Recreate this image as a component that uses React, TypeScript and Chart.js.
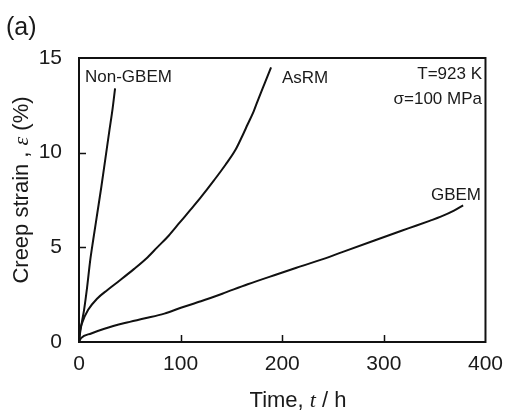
import React, { useEffect, useRef } from "react";
import { Chart, registerables } from "chart.js";

Chart.register(...registerables);

// Data
const nonGbemTime = [0, 1, 3, 5, 8, 11, 14, 18, 22, 26, 30, 33, 35.5];
const nonGbemStrain = [0, 0.45, 1.1, 1.7, 2.9, 4.3, 5.4, 6.8, 8.2, 9.7, 11.2, 12.3, 13.4];

const asrmTime = [0, 1, 3, 9, 18, 28, 40, 54, 66, 77, 88, 99, 110, 120, 133, 144, 154, 160, 166, 172, 177, 183, 189];
const asrmStrain = [0, 0.6, 1.0, 1.7, 2.3, 2.75, 3.25, 3.85, 4.4, 5.0, 5.6, 6.3, 7.0, 7.65, 8.55, 9.35, 10.15, 10.8, 11.5, 12.2, 12.9, 13.7, 14.5];

const gbemTime = [0, 2, 12, 25, 45, 65, 84, 101, 120, 141, 166, 195, 214, 240, 259, 290, 324, 345, 356, 369, 378];
const gbemStrain = [0, 0.2, 0.45, 0.7, 1.0, 1.25, 1.5, 1.82, 2.15, 2.55, 3.05, 3.58, 3.92, 4.38, 4.75, 5.35, 6.0, 6.4, 6.62, 6.94, 7.22];

const xTicks = [0, 100, 200, 300, 400];
const yTicks = [0, 5, 10, 15];

const FONT = "'Liberation Sans', Arial, sans-serif";
const TEXT = "#1a1a1a";

const toXY = (xs: number[], ys: number[]) => xs.map((x, i) => ({ x, y: ys[i] }));

type Seg = { t: string; italic?: boolean };

function drawSegs(ctx: CanvasRenderingContext2D, segs: Seg[], size: number, cx: number, cy: number) {
  const fontFor = (s: Seg) => (s.italic ? `italic ${size}px 'Liberation Serif', serif` : `${size}px ${FONT}`);
  let total = 0;
  for (const s of segs) {
    ctx.font = fontFor(s);
    total += ctx.measureText(s.t).width;
  }
  let x = cx - total / 2;
  ctx.textBaseline = "middle";
  ctx.textAlign = "left";
  for (const s of segs) {
    ctx.font = fontFor(s);
    ctx.fillText(s.t, x, cy);
    x += ctx.measureText(s.t).width;
  }
}

const framePlugin = {
  id: "frame",
  afterDraw(chart: any) {
    const { ctx, chartArea: a, scales } = chart;
    const xs = scales.x;
    const ys = scales.y;
    ctx.save();
    ctx.strokeStyle = "#111";
    ctx.lineWidth = 2;
    ctx.strokeRect(a.left, a.top, a.right - a.left, a.bottom - a.top);
    // inward ticks
    ctx.lineWidth = 1.5;
    ctx.beginPath();
    for (const v of xTicks.slice(1, -1)) {
      const px = Math.round(xs.getPixelForValue(v)) + 0.5;
      ctx.moveTo(px, a.bottom);
      ctx.lineTo(px, a.bottom - 7);
    }
    for (const v of yTicks.slice(1, -1)) {
      const py = Math.round(ys.getPixelForValue(v)) + 0.5;
      ctx.moveTo(a.left, py);
      ctx.lineTo(a.left + 7, py);
    }
    ctx.stroke();

    ctx.fillStyle = TEXT;
    // x title
    drawSegs(ctx, [{ t: "Time, " }, { t: "t", italic: true }, { t: " / h" }], 22, 298, 401);
    // y title
    ctx.save();
    ctx.translate(22, 190);
    ctx.rotate(-Math.PI / 2);
    drawSegs(ctx, [{ t: "Creep strain , " }, { t: "ε", italic: true }, { t: " (%)" }], 22, 0, 0);
    ctx.restore();

    // panel label
    ctx.font = `25px ${FONT}`;
    ctx.textAlign = "left";
    ctx.textBaseline = "middle";
    ctx.fillText("(a)", 6, 28);

    // annotations
    ctx.font = `17px ${FONT}`;
    ctx.textAlign = "left";
    ctx.fillText("Non-GBEM", 85, 77);
    ctx.fillText("AsRM", 282, 78);
    ctx.textAlign = "right";
    ctx.fillText("T=923 K", 482, 74);
    ctx.fillText("σ=100 MPa", 482, 99);
    ctx.fillText("GBEM", 481, 195);
    ctx.restore();
  },
};

export default function App() {
  const ref = useRef<HTMLCanvasElement | null>(null);
  useEffect(() => {
    if (!ref.current) return;
    const line = (label: string, xs: number[], ys: number[]) => ({
      label,
      data: toXY(xs, ys),
      borderColor: "#111",
      borderWidth: 2,
      pointRadius: 0,
      fill: false,
      tension: 0.4,
      cubicInterpolationMode: "monotone" as const,
    });
    const chart = new Chart(ref.current, {
      type: "line",
      data: {
        datasets: [
          line("Non-GBEM", nonGbemTime, nonGbemStrain),
          line("AsRM", asrmTime, asrmStrain),
          line("GBEM", gbemTime, gbemStrain),
        ],
      },
      options: {
        animation: false,
        responsive: true,
        maintainAspectRatio: false,
        layout: { padding: { left: 0, top: 58, right: 21, bottom: 0 } },
        plugins: { legend: { display: false }, tooltip: { enabled: false }, title: { display: false } },
        scales: {
          x: {
            type: "linear",
            min: 0,
            max: 400,
            afterFit: (s: any) => { s.height = 71; },
            afterBuildTicks: (s: any) => { s.ticks = xTicks.map((v) => ({ value: v })); },
            border: { display: false },
            grid: { display: true, drawOnChartArea: false, drawTicks: false, color: "rgba(0,0,0,0)" },
            ticks: { padding: 10, color: TEXT, font: { family: FONT, size: 21 }, maxRotation: 0, autoSkip: false },
          },
          y: {
            type: "linear",
            min: 0,
            max: 15,
            afterFit: (s: any) => { s.width = 79; },
            afterBuildTicks: (s: any) => { s.ticks = yTicks.map((v) => ({ value: v })); },
            border: { display: false },
            grid: { display: true, drawOnChartArea: false, drawTicks: false, color: "rgba(0,0,0,0)" },
            ticks: { padding: 17, color: TEXT, font: { family: FONT, size: 21 }, autoSkip: false },
          },
        },
      },
      plugins: [framePlugin],
    });
    return () => chart.destroy();
  }, []);
  return (
    <div style={{ position: "absolute", left: 0, top: 0, width: 513, height: 413, background: "#fff" }}>
      <canvas ref={ref} />
    </div>
  );
}
